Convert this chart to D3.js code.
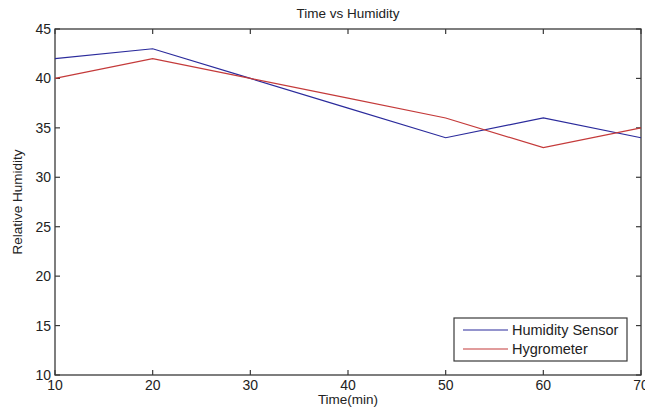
<!DOCTYPE html>
<html>
<head>
<meta charset="utf-8">
<script src="https://cdn.jsdelivr.net/npm/d3@7"></script>
<style>
  body { margin: 0; background: #fff; }
  text { font-family: "Liberation Sans", Arial, sans-serif; fill: #222; }
</style>
</head>
<body>
<svg id="chart" width="645" height="411"></svg>
<script>
const times = [10, 20, 30, 40, 50, 60, 70];
const sensor = [42, 43, 40, 37, 34, 36, 34];
const hygrometer = [40, 42, 40, 38, 36, 33, 35];
const xTicks = [10, 20, 30, 40, 50, 60, 70];
const yTicks = [10, 15, 20, 25, 30, 35, 40, 45];

const width = 645, height = 411;
const margin = { top: 29, right: 4, bottom: 36, left: 55 };
const svg = d3.select('#chart');

const x = d3.scaleLinear().domain([10, 70]).range([margin.left, width - margin.right]);
const y = d3.scaleLinear().domain([10, 45]).range([height - margin.bottom, margin.top]);

const axisColor = '#3a3a3a';

// plot box
svg.append('rect')
  .attr('x', x(10)).attr('y', y(45))
  .attr('width', x(70) - x(10)).attr('height', y(10) - y(45))
  .attr('fill', 'none').attr('stroke', axisColor).attr('stroke-width', 1.3);

// inward ticks on all sides
const tickLen = 5;
const g = svg.append('g').attr('stroke', axisColor).attr('stroke-width', 1.2);
xTicks.forEach(t => {
  g.append('line').attr('x1', x(t)).attr('x2', x(t)).attr('y1', y(10)).attr('y2', y(10) - tickLen);
  g.append('line').attr('x1', x(t)).attr('x2', x(t)).attr('y1', y(45)).attr('y2', y(45) + tickLen);
});
yTicks.forEach(t => {
  g.append('line').attr('y1', y(t)).attr('y2', y(t)).attr('x1', x(10)).attr('x2', x(10) + tickLen);
  g.append('line').attr('y1', y(t)).attr('y2', y(t)).attr('x1', x(70)).attr('x2', x(70) - tickLen);
});

// tick labels (the last x label runs off the edge, as in the original)
svg.selectAll('.xl').data(xTicks).join('text')
  .attr('class', 'xl')
  .attr('x', d => x(d)).attr('y', y(10) + 15)
  .attr('text-anchor', 'middle').attr('font-size', 14)
  .text(d => d);
svg.selectAll('.yl').data(yTicks).join('text')
  .attr('class', 'yl')
  .attr('x', x(10) - 4).attr('y', d => y(d) + 5)
  .attr('text-anchor', 'end').attr('font-size', 14)
  .text(d => d);

// titles
svg.append('text').attr('x', (x(10) + x(70)) / 2).attr('y', 18)
  .attr('text-anchor', 'middle').attr('font-size', 13.5).text('Time vs Humidity');
svg.append('text').attr('x', (x(10) + x(70)) / 2).attr('y', 404)
  .attr('text-anchor', 'middle').attr('font-size', 13.5).text('Time(min)');
svg.append('text')
  .attr('transform', `translate(22, ${(y(10) + y(45)) / 2}) rotate(-90)`)
  .attr('text-anchor', 'middle').attr('font-size', 13.5).text('Relative Humidity');

// lines
const line = d3.line().x((d, i) => x(times[i])).y(d => y(d));
const series = [
  { name: 'Humidity Sensor', values: sensor, color: '#2b2b9c' },
  { name: 'Hygrometer', values: hygrometer, color: '#c43a3a' }
];
svg.selectAll('.series').data(series).join('path')
  .attr('class', 'series')
  .attr('d', d => line(d.values))
  .attr('fill', 'none')
  .attr('stroke', d => d.color)
  .attr('stroke-width', 1.2);

// legend
const lg = svg.append('g').attr('transform', 'translate(454, 318)');
lg.append('rect').attr('width', 173).attr('height', 43)
  .attr('fill', '#fff').attr('stroke', axisColor).attr('stroke-width', 1.2);
series.forEach((s, i) => {
  const yy = 12 + i * 19;
  lg.append('line').attr('x1', 9).attr('x2', 54).attr('y1', yy).attr('y2', yy)
    .attr('stroke', s.color).attr('stroke-width', 1.2);
  lg.append('text').attr('x', 58).attr('y', yy + 5).attr('font-size', 14.5).text(s.name);
});
</script>
</body>
</html>
